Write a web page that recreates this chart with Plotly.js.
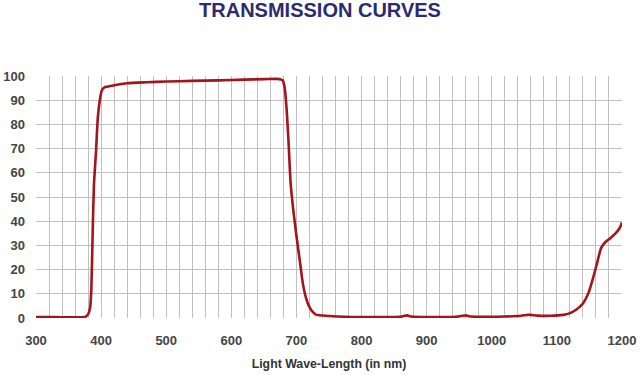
<!DOCTYPE html>
<html><head><meta charset="utf-8">
<script src="https://cdn.plot.ly/plotly-3.0.1.min.js"></script>
<style>html,body{margin:0;padding:0;background:#fff}#chart{width:640px;height:375px}</style>
</head><body><div id="chart"></div>
<script>
const wavelength = [300,320,340,360,375,380,383,385,387,389,392,395,398,401,405,410,420,440,470,500,540,580,620,650,670,676,679,682,685,688,691,695,700,705,710,715,720,725,730,740,750,775,800,830,860,866,870,876,890,920,945,955,960,968,990,1020,1045,1055,1060,1070,1090,1110,1120,1130,1140,1148,1155,1162,1168,1175,1182,1190,1196,1200];
const transmission = [0.4,0.4,0.3,0.3,0.4,1.5,4,12,35,55,68,83,90,94,95.3,95.6,96.2,97,97.4,97.7,98,98.2,98.5,98.7,98.8,98.6,98.2,95,86,72,56,45,34,24,14,8,4.5,2.5,1.4,1,0.8,0.5,0.4,0.4,0.5,0.9,1.1,0.6,0.4,0.4,0.5,0.9,1.1,0.6,0.5,0.6,0.9,1.3,1.3,1,0.9,1.3,2,3.5,6,10,16,23,29,31.5,33,35,37,39.5];
const xTicks = [300,400,500,600,700,800,900,1000,1100,1200];
const yTicks = [0,10,20,30,40,50,60,70,80,90,100];

const trace = {
  x: wavelength, y: transmission, type: 'scatter', mode: 'lines',
  line: {color: '#a3141c', width: 2.6, shape: 'spline', smoothing: 0.6},
  hoverinfo: 'x+y'
};
const gridCol = '#c0c0c0';
const fam = 'Liberation Sans, Arial, sans-serif';
const layout = {
  width: 640, height: 375,
  margin: {l: 36, r: 18, t: 76, b: 57},
  paper_bgcolor: '#fff', plot_bgcolor: '#fff',
  showlegend: false,
  title: {text: '<b>TRANSMISSION CURVES</b>', x: 0.5, xanchor: 'center', y: 0.973, yanchor: 'middle', yref: 'container',
          font: {family: fam, size: 20, color: '#2c2a70'}},
  xaxis: {
    range: [300, 1200], tickvals: xTicks, ticktext: xTicks.map(String),
    showgrid: true, gridcolor: gridCol, gridwidth: 1,
    minor: {dtick: 20, tick0: 300, showgrid: true, gridcolor: gridCol, gridwidth: 1, ticks: ''},
    zeroline: false, showline: false, ticks: '', ticklabelstandoff: 13,
    tickfont: {family: fam, size: 13, color: '#444', weight: 'bold'},
    title: {text: '<b>Light Wave-Length (in nm)</b>', standoff: 12,
            font: {family: fam, size: 12.3, color: '#333'}},
    automargin: false, fixedrange: true
  },
  yaxis: {
    range: [0, 100], tickvals: yTicks, ticktext: yTicks.map(String),
    showgrid: true, gridcolor: gridCol, gridwidth: 1,
    zeroline: false, showline: false, ticks: '', ticklabelstandoff: 10,
    tickfont: {family: fam, size: 13, color: '#444', weight: 'bold'},
    automargin: false, fixedrange: true
  }
};
Plotly.newPlot('chart', [trace], layout, {displayModeBar: false, staticPlot: true});
</script></body></html>
